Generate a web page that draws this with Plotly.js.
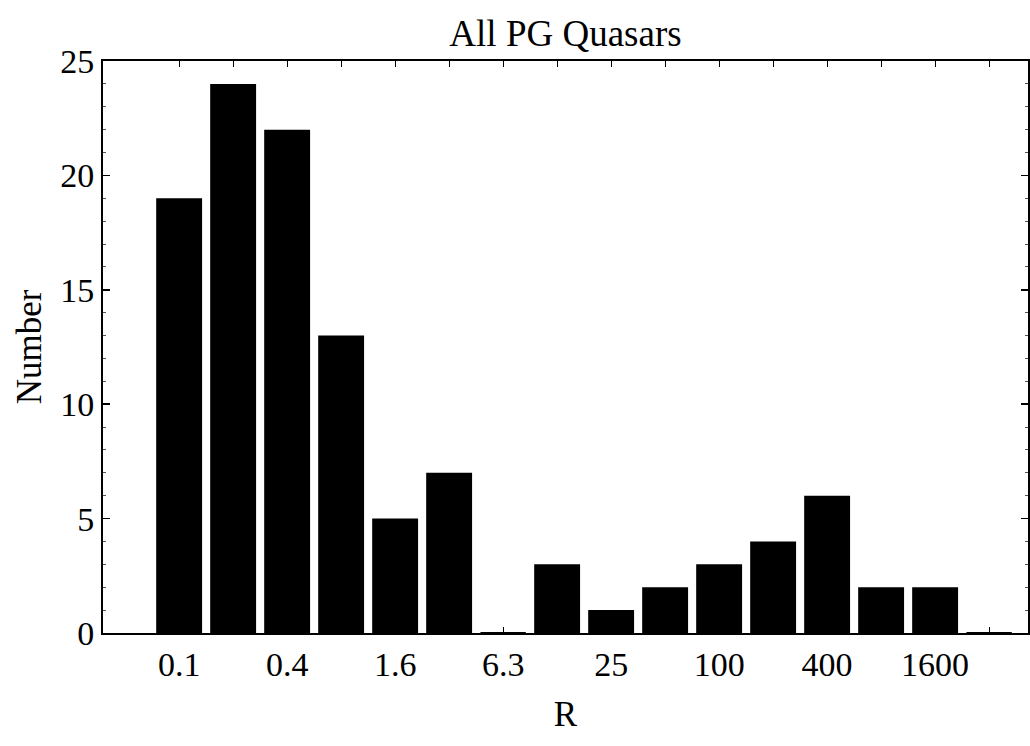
<!DOCTYPE html>
<html>
<head>
<meta charset="utf-8">
<script src="https://cdn.plot.ly/plotly-3.0.1.min.js"></script>
<style>html,body{margin:0;padding:0;background:#fff;}#chart{width:1030px;height:746px;}</style>
</head>
<body>
<div id="chart"></div>
<script>
// Bin index (one per bar) and the labels shown under every other bar
const binIndex = [0,1,2,3,4,5,6,7,8,9,10,11,12,13,14,15];
const tickLabels = ['0.1','','0.4','','1.6','','6.3','','25','','100','','400','','1600',''];
const counts = [19,24,22,13,5,7,0,3,1,2,3,4,6,2,2,0];
const yTicks = [0,5,10,15,20,25];

const FAM = 'Liberation Serif, Times New Roman, serif';
const TICKFONT = {family: FAM, size: 34, color: '#000'};
const TITLEFONT = {family: FAM, size: 37, color: '#000'};
const AXFONT = {family: FAM, size: 35, color: '#000'};

// zero-count bins are drawn as a flat line over the bar width
const zeroX = [], zeroY = [];
binIndex.forEach((b, i) => {
  if (counts[i] === 0) { zeroX.push(b - 0.42, b + 0.42, null); zeroY.push(0, 0, null); }
});

const traces = [
  {type: 'bar', x: binIndex, y: counts, width: 0.85,
   marker: {color: '#000', line: {width: 0}}, hoverinfo: 'x+y'},
  {type: 'scatter', mode: 'lines', x: zeroX, y: zeroY,
   line: {color: '#000', width: 2}, hoverinfo: 'skip', cliponaxis: false}
];

const layout = {
  width: 1030, height: 746,
  margin: {l: 103, r: 2, t: 61, b: 113},
  paper_bgcolor: '#fff', plot_bgcolor: '#fff',
  showlegend: false,
  font: TICKFONT,
  title: {text: 'All PG Quasars', font: TITLEFONT, x: 0.5, xref: 'paper', xanchor: 'center',
          y: 1 - 33/746, yref: 'container', yanchor: 'middle'},
  xaxis: {
    range: [-1.41, 15.72], tickmode: 'array', tickvals: binIndex, ticktext: tickLabels,
    ticks: 'inside', ticklen: 6, tickwidth: 1, tickcolor: '#000',
    showline: true, linecolor: '#000', linewidth: 2, mirror: 'ticks',
    showgrid: false, zeroline: false, tickfont: TICKFONT,
    title: {text: 'R', font: AXFONT, standoff: 20}
  },
  yaxis: {
    range: [0, 25], tickmode: 'array', tickvals: yTicks,
    ticks: 'inside', ticklen: 7, tickwidth: 1.5, tickcolor: '#000',
    minor: {dtick: 1, ticks: 'inside', ticklen: 3, tickwidth: 1, tickcolor: '#555', showgrid: false},
    showline: true, linecolor: '#000', linewidth: 2, mirror: 'ticks',
    showgrid: false, zeroline: false, tickfont: TICKFONT,
    title: {text: 'Number', font: AXFONT, standoff: 8}
  }
};

Plotly.newPlot('chart', traces, layout, {displayModeBar: false, staticPlot: true});
</script>
</body>
</html>
